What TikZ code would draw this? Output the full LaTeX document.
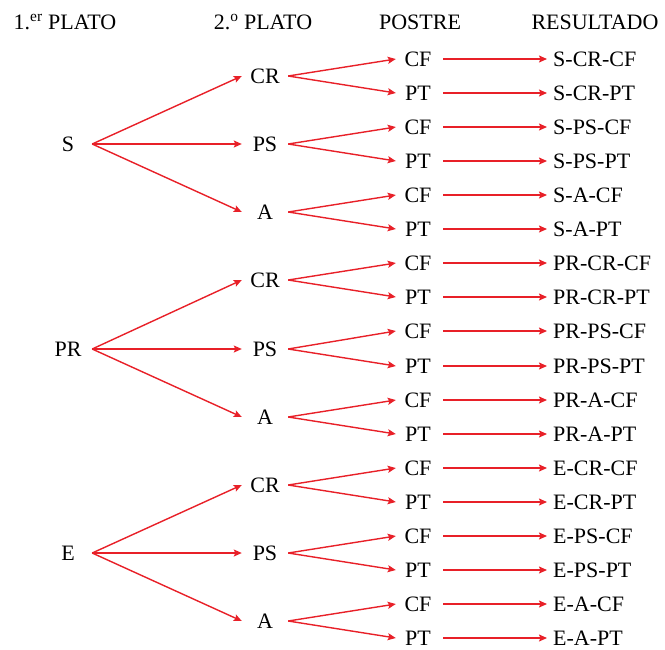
\documentclass[tikz,border=0pt]{standalone}
\usepackage{fontspec}
\setmainfont{Liberation Serif}
\usetikzlibrary{arrows.meta}
\definecolor{arrowred}{RGB}{232,32,40}
\tikzset{
  lbl/.style={font=\fontsize{22}{24}\selectfont, text height=15pt, text depth=0pt, inner sep=0pt},
  lvla/.style={lbl, minimum width=48pt},
  lvlb/.style={lbl, minimum width=46pt},
  lvlc/.style={lbl, minimum width=44pt},
  res/.style={lbl, anchor=west, inner xsep=6pt},
  hdr/.style={lbl},
  arr/.style={draw=arrowred, line width=1.4pt, -{Stealth[length=8pt,width=7pt,inset=1.5pt]}},
}
\begin{document}
\begin{tikzpicture}[x=1pt,y=-1pt]
\useasboundingbox (0,0) rectangle (665,649);
% headers
\node[hdr] (h1) at (65,22) {1.\textsuperscript{er} PLATO};
\node[hdr] (h2) at (263,22) {2.\textsuperscript{o} PLATO};
\node[hdr] (h3) at (420,22) {POSTRE};
\node[hdr] (h4) at (595,22) {RESULTADO};
% level 3 y positions: 59 + 34.06k
\foreach \a [count=\i from 0] in {S, PR, E}{
  \pgfmathsetmacro{\ya}{round(59 + 34.06*(6*\i + 2) + 17.03)}
  \node[lvla] (L1-\i) at (68,\ya) {\a};
  \foreach \b [count=\j from 0] in {CR, PS, A}{
    \pgfmathsetmacro{\yb}{round(59 + 34.06*(6*\i + 2*\j) + 17.03)}
    \node[lvlb] (L2-\i-\j) at (265,\yb) {\b};
    \draw[arr] (L1-\i.east) -- (L2-\i-\j.west);
    \foreach \c [count=\k from 0] in {CF, PT}{
      \pgfmathsetmacro{\yc}{round(59 + 34.06*(6*\i + 2*\j + \k))}
      \node[lvlc] (L3-\i-\j-\k) at (418,\yc) {\c};
      \node[res] (R-\i-\j-\k) at (547,\yc) {\a-\b-\c};
      \draw[arr] (L2-\i-\j.east) -- (L3-\i-\j-\k.west);
      \draw[arr, shorten <=3pt] (L3-\i-\j-\k.east) -- (R-\i-\j-\k.west);
    }
  }
}
\end{tikzpicture}
\end{document}
